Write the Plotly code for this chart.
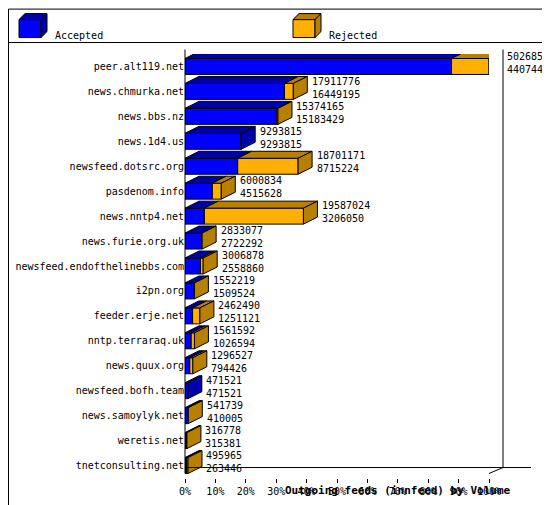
import plotly.graph_objects as go

# innfeed outgoing volume per peer
peers = ["peer.alt119.net", "news.chmurka.net", "news.bbs.nz", "news.1d4.us",
         "newsfeed.dotsrc.org", "pasdenom.info", "news.nntp4.net",
         "news.furie.org.uk", "newsfeed.endofthelinebbs.com", "i2pn.org",
         "feeder.erje.net", "nntp.terraraq.uk", "news.quux.org",
         "newsfeed.bofh.team", "news.samoylyk.net", "weretis.net",
         "tnetconsulting.net"]
offered = [50268579, 17911776, 15374165, 9293815, 18701171, 6000834, 19587024,
           2833077, 3006878, 1552219, 2462490, 1561592, 1296527, 471521,
           541739, 316778, 495965]
accepted = [44074413, 16449195, 15183429, 9293815, 8715224, 4515628, 3206050,
            2722292, 2558860, 1509524, 1251121, 1026594, 794426, 471521,
            410005, 315381, 263446]

W, H = 550, 505
x0px, x1px = 177, 481
ytop, ybot = 45.5, 470.5
n = len(peers)
vmax = max(offered)
acc_pct = [a / vmax * 100 for a in accepted]
rej_pct = [(o - a) / vmax * 100 for o, a in zip(offered, accepted)]
tot_pct = [o / vmax * 100 for o in offered]

BLUE, BLUE_D = "#0000ff", "#0000a8"
ORANGE, ORANGE_D = "#ffb000", "#b88000"
mono = "DejaVu Sans Mono"

dx = 14 / (x1px - x0px) * 100   # depth in x units
dy = 7 / ((ybot - ytop) / n)    # depth in category units
bh = 0.32                       # half bar height

fig = go.Figure()
fig.add_trace(go.Bar(y=list(range(n)), x=acc_pct, orientation="h",
                     marker=dict(color=BLUE, line=dict(color="black", width=1)),
                     width=2 * bh, showlegend=False, hoverinfo="skip"))
fig.add_trace(go.Bar(y=list(range(n)), x=rej_pct, base=acc_pct, orientation="h",
                     marker=dict(color=ORANGE, line=dict(color="black", width=1)),
                     width=2 * bh, showlegend=False, hoverinfo="skip"))

shapes = []
def poly(pts, color):
    path = "M " + " L ".join(f"{x},{y}" for x, y in pts) + " Z"
    shapes.append(dict(type="path", path=path, xref="x", yref="y",
                       fillcolor=color, line=dict(color="black", width=1)))

for i in range(n):
    yt = i - bh
    a, t = acc_pct[i], tot_pct[i]
    # top faces
    if a > 0:
        poly([(0, yt), (a, yt), (a + dx, yt - dy), (dx, yt - dy)], BLUE_D)
    if t > a:
        poly([(a, yt), (t, yt), (t + dx, yt - dy), (a + dx, yt - dy)], ORANGE_D)
    # side face
    side = ORANGE_D if t > a else BLUE_D
    poly([(t, yt), (t + dx, yt - dy), (t + dx, i + bh - dy), (t, i + bh)], side)

annotations = []
for i in range(n):
    annotations.append(dict(x=(tot_pct[i] + dx + 0.8) / 100, y=i - 0.15, xref="paper",
                            yref="y", text=f"{offered[i]}<br>{accepted[i]}",
                            showarrow=False, xanchor="left", align="left",
                            font=dict(family=mono, size=10, color="black")))

def px(x): return (x - x0px) / (x1px - x0px)
def py(y): return (ybot - y) / (ybot - ytop)

def pline(xa, ya, xb, yb):
    shapes.append(dict(type="line", xref="paper", yref="paper", x0=px(xa), y0=py(ya),
                       x1=px(xb), y1=py(yb), line=dict(color="black", width=1)))

# frame, legend separator, walls
shapes.append(dict(type="rect", xref="paper", yref="paper", x0=px(0.5), y0=py(0.5),
                   x1=px(549.5), y1=py(504.5), line=dict(color="black", width=1)))
pline(0, 34, 550, 34)
pline(177, 41, 177, 466)
pline(495, 41, 495, 460)
pline(177, 460, 523, 460)
pline(481, 466, 495, 460)

# legend boxes (3d squares)
for lx, front, dark, label in [(11, BLUE, BLUE_D, "Accepted"),
                               (285, ORANGE, ORANGE_D, "Rejected")]:
    for pts, c in [([(lx, 11), (lx + 22, 11), (lx + 22, 29), (lx, 29)], front),
                   ([(lx, 11), (lx + 6, 5), (lx + 28, 5), (lx + 22, 11)], dark),
                   ([(lx + 22, 11), (lx + 28, 5), (lx + 28, 23), (lx + 22, 29)], dark)]:
        path = "M " + " L ".join(f"{px(x)},{py(y)}" for x, y in pts) + " Z"
        shapes.append(dict(type="path", path=path, xref="paper", yref="paper",
                           fillcolor=c, line=dict(color="black", width=1)))
    annotations.append(dict(x=px(lx + 34), y=py(19), xref="paper", yref="paper",
                            text=label, showarrow=False, xanchor="left",
                            font=dict(family=mono, size=10, color="black")))

annotations.append(dict(x=px(275), y=py(492), xref="paper", yref="paper",
                        text="<b>Outgoing feeds (innfeed) by Volume</b>",
                        showarrow=False,
                        font=dict(family=mono, size=11, color="black")))

fig.update_layout(
    width=W, height=H, barmode="overlay",
    margin=dict(l=x0px, r=W - x1px, t=ytop, b=H - ybot, autoexpand=False),
    paper_bgcolor="white", plot_bgcolor="white",
    shapes=shapes, annotations=annotations,
    xaxis=dict(range=[0, 100], tickvals=list(range(0, 101, 10)),
               ticktext=[f"{v}%" for v in range(0, 101, 10)],
               showgrid=False, zeroline=False, ticks="outside", ticklen=4,
               tickcolor="black", showline=False, automargin=False,
               tickfont=dict(family=mono, size=10, color="black")),
    yaxis=dict(range=[n - 0.5, -0.5], tickvals=list(range(n)), ticktext=peers,
               showgrid=False, zeroline=False, ticks="", showline=False,
               automargin=False,
               tickfont=dict(family=mono, size=10, color="black")),
)
fig.write_html("out.html")
